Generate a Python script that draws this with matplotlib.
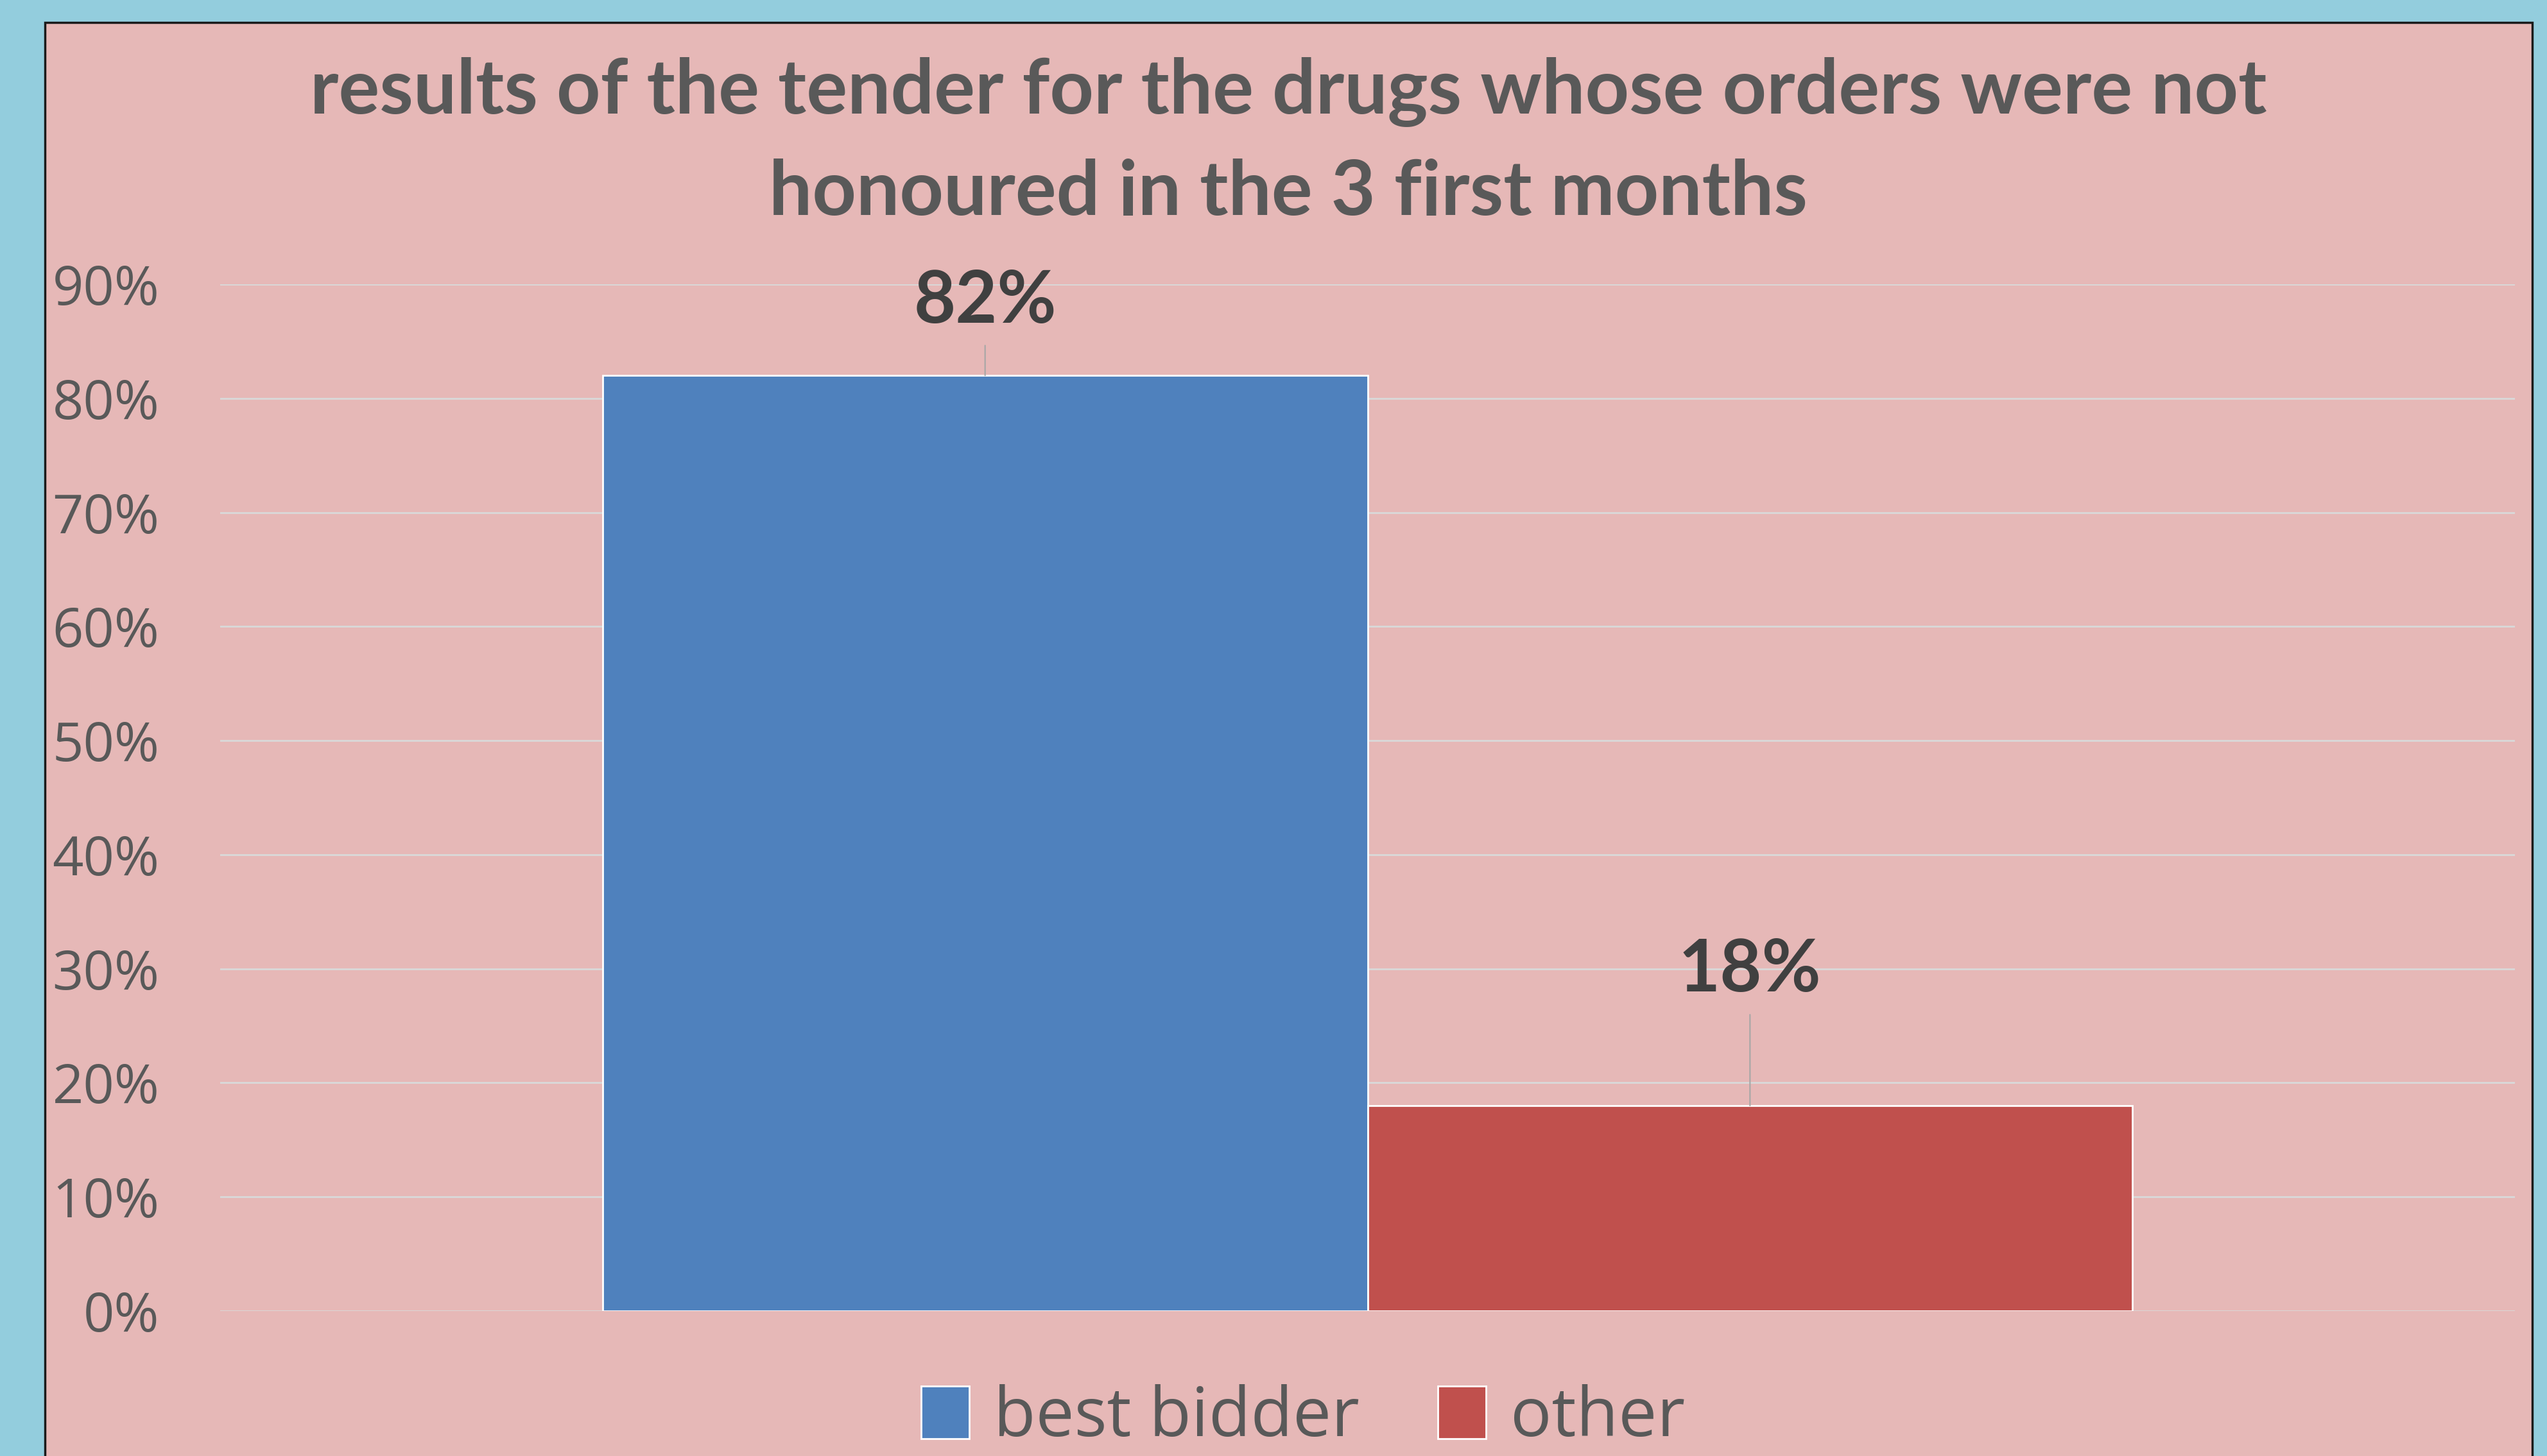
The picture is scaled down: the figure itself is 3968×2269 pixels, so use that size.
import matplotlib.pyplot as plt
from matplotlib.patches import Rectangle

# data
series = ['best bidder', 'other']
values = [0.82, 0.18]
colors = ['#4F81BD', '#C0504D']
label_offsets = [115, 210]  # px above bar top where label sits
yticks = [0, 0.1, 0.2, 0.3, 0.4, 0.5, 0.6, 0.7, 0.8, 0.9]
title = 'results of the tender for the drugs whose orders were not\nhonoured in the 3 first months'

W, H = 3968, 2269
fig = plt.figure(figsize=(W / 100, H / 100), dpi=100)
fig.patch.set_facecolor('#93CDDD')

# pink chart panel
panel = Rectangle((70 / W, -0.05), (3945 - 70) / W, 1.05 - 35 / H,
                  transform=fig.transFigure, facecolor='#E6B8B7',
                  edgecolor='#1a1a1a', linewidth=2.5, zorder=-10)
fig.patches.append(panel)

ax = fig.add_axes([343 / W, 1 - 2043 / H, (3918 - 343) / W, (2043 - 443) / H])
ax.set_facecolor('none')
ax.set_zorder(2)

width = 1 / 3
xs = [-width / 2, width / 2]
bars = ax.bar(xs, values, width=width, color=colors, edgecolor='white',
              linewidth=2, label=series, zorder=3)
ax.set_xlim(-0.5, 0.5)
ax.set_ylim(0, 0.9)
ax.set_yticks(yticks)
ax.set_yticklabels([f'{int(round(t * 100))}%' for t in yticks],
                   fontsize=61, color='#595959', family='Open Sans')
ax.tick_params(axis='y', length=0, pad=68)
ax.set_xticks([])
ax.grid(axis='y', color='#D9D9D9', linewidth=2, zorder=1)
for s in ax.spines.values():
    s.set_visible(False)

# data labels with leader lines
px_per_unit = (2043 - 443) / 0.9
for x, v, off in zip(xs, values, label_offsets):
    ty = v + off / px_per_unit
    ax.annotate(f'{int(round(v * 100))}%', xy=(x, v), xytext=(x, ty),
                ha='center', va='center', fontsize=81, fontweight='bold',
                color='#404040', family='Lato',
                arrowprops=dict(arrowstyle='-', color='#A6A6A6', lw=1.5,
                                shrinkA=10, shrinkB=0), zorder=4)

fig.text(2007 / W, 1 - 222 / H, title, ha='center', va='center',
         fontsize=86, fontweight='bold', color='#595959', family='Lato',
         linespacing=1.55)

leg = fig.legend(handles=bars, labels=series, loc='center',
                 bbox_to_anchor=(2030 / W, 1 - 2210 / H), ncol=2, frameon=False,
                 fontsize=77, handlelength=0.7, handleheight=0.8,
                 handletextpad=0.35, columnspacing=1.15)
for t in leg.get_texts():
    t.set_color('#595959')
    t.set_family('Open Sans')

fig.savefig('out.png', dpi=100, facecolor=fig.get_facecolor())
